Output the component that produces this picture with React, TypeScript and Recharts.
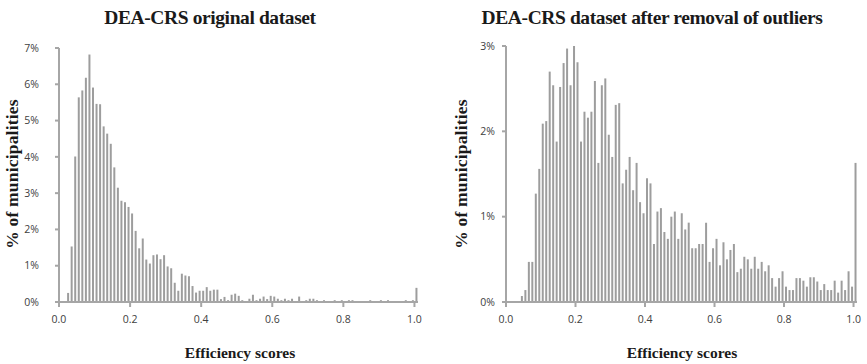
import React from "react";
import { BarChart, Bar, XAxis, YAxis } from "recharts";

// lower edge of each efficiency bin (0.00 ... 1.00), last bin = fully efficient
const BINS: number[] = Array.from({ length: 101 }, (_, i) => i / 100);

// % of municipalities per bin, original dataset
const ORIGINAL = [
  0, 0, 0.25, 1.53, 4.01, 5.64, 5.83, 6.18, 6.82, 5.91,
  5.46, 5.45, 4.84, 4.64, 4.36, 3.71, 3.15, 2.79, 2.75, 2.62,
  2.44, 1.96, 1.48, 1.75, 1.17, 1.06, 1.29, 1.31, 1.18, 1.29,
  0.98, 0.93, 0.53, 0.31, 0.78, 0.73, 0.71, 0.44, 0.26, 0.31,
  0.31, 0.41, 0.31, 0.34, 0.34, 0.08, 0.14, 0.05, 0.2, 0.23,
  0.17, 0.05, 0, 0.09, 0.2, 0.05, 0.09, 0.15, 0.08, 0.17,
  0.15, 0.09, 0.05, 0.09, 0.05, 0.09, 0, 0.15, 0, 0.05,
  0.09, 0.09, 0.05, 0, 0.05, 0, 0, 0.05, 0, 0.05,
  0, 0.05, 0.05, 0, 0, 0, 0, 0.05, 0, 0,
  0.05, 0, 0.05, 0, 0, 0, 0, 0.05, 0, 0.05,
  0.39,
];

// % of municipalities per bin, after removal of outliers
const NO_OUTLIERS = [
  0, 0, 0, 0, 0.07, 0.14, 0.47, 0.47, 1.27, 1.56,
  2.09, 2.12, 2.7, 2.54, 1.88, 2.52, 2.8, 2.97, 2.54, 3.01,
  2.81, 1.88, 2.23, 2.16, 2.23, 2.59, 1.63, 2.54, 2.62, 1.96,
  1.7, 2.31, 2.33, 1.39, 1.55, 1.7, 1.31, 1.63, 1.17, 1.04,
  1.45, 1.39, 0.68, 1.06, 1.1, 0.82, 0.74, 1.0, 1.06, 0.74,
  1.04, 0.85, 0.93, 0.63, 0.63, 0.68, 0.68, 0.93, 0.47, 0.63,
  0.74, 0.43, 0.7, 0.5, 0.61, 0.68, 0.35, 0.39, 0.53, 0.5,
  0.39, 0.53, 0.39, 0.47, 0.36, 0.43, 0.28, 0.18, 0.28, 0.36,
  0.18, 0.14, 0.14, 0.28, 0.28, 0.25, 0.18, 0.29, 0.29, 0.24,
  0.14, 0.21, 0.14, 0.14, 0.25, 0.11, 0.25, 0.14, 0.36, 0.18,
  1.63,
];

const X_TICKS = [0, 0.2, 0.4, 0.6, 0.8, 1];
const LEFT_Y_TICKS = [0, 1, 2, 3, 4, 5, 6, 7];
const RIGHT_Y_TICKS = [0, 1, 2, 3];

const BAR = "#9d9d9d";
const AXIS = "#a6a6a6";
const tickStyle = { fontFamily: "'Open Sans', sans-serif", fontSize: 10.5, fill: "#404040" };
const serif = "'Liberation Serif', 'Times New Roman', serif";

const toRows = (vals: number[]) => BINS.map((b, i) => ({ x: b + 0.005, v: vals[i] }));

function Hist({ rows, yTicks, yMax, width, margin, yWidth, yTickMargin, barSize }: any) {
  return (
    <BarChart width={width} height={364} data={rows} margin={margin} barCategoryGap={0}>
      <XAxis
        dataKey="x"
        type="number"
        domain={[0, 1.01]}
        ticks={X_TICKS}
        tickFormatter={(v: number) => v.toFixed(1)}
        height={30}
        tick={tickStyle}
        tickSize={5}
        tickMargin={9}
        axisLine={{ stroke: AXIS, strokeWidth: 2 }}
        tickLine={{ stroke: AXIS, strokeWidth: 2 }}
        allowDataOverflow
      />
      <YAxis
        type="number"
        domain={[0, yMax]}
        ticks={yTicks}
        tickFormatter={(v: number) => `${v}%`}
        width={yWidth}
        tick={tickStyle}
        tickSize={4}
        tickMargin={yTickMargin}
        axisLine={{ stroke: AXIS, strokeWidth: 2 }}
        tickLine={{ stroke: AXIS, strokeWidth: 2 }}
        allowDataOverflow
      />
      <Bar dataKey="v" fill={BAR} barSize={barSize} isAnimationActive={false} />
    </BarChart>
  );
}

const textBase: React.CSSProperties = {
  position: "absolute",
  fontFamily: serif,
  fontWeight: "bold",
  color: "#1a1a1a",
  whiteSpace: "nowrap",
  lineHeight: 1,
};

function Centered({ x, y, size, rotate, spacing, children }: any) {
  return (
    <div
      style={{
        ...textBase,
        left: x,
        top: y,
        fontSize: size,
        letterSpacing: spacing || 0,
        transform: `translate(-50%, -50%)${rotate ? " rotate(-90deg)" : ""}`,
      }}
    >
      {children}
    </div>
  );
}

export default function App() {
  return (
    <div style={{ position: "relative", width: 867, height: 364, background: "#fff", overflow: "hidden" }}>
      <style>{"body{margin:0}"}</style>
      <div style={{ position: "absolute", left: 0, top: 0 }}>
        <Hist
          rows={toRows(ORIGINAL)}
          yTicks={LEFT_Y_TICKS}
          yMax={7}
          width={450}
          margin={{ top: 48, right: 32, bottom: 32, left: 0 }}
          yWidth={59}
          yTickMargin={16}
          barSize={2}
        />
      </div>
      <div style={{ position: "absolute", left: 450, top: 0 }}>
        <Hist
          rows={toRows(NO_OUTLIERS)}
          yTicks={RIGHT_Y_TICKS}
          yMax={3}
          width={417}
          margin={{ top: 46, right: 10, bottom: 32, left: 0 }}
          yWidth={56}
          yTickMargin={7}
          barSize={2}
        />
      </div>

      <Centered x={210} y={18} size={19.5} spacing={-0.4}>DEA-CRS original dataset</Centered>
      <Centered x={652} y={18} size={19.5} spacing={-0.4}>DEA-CRS dataset after removal of outliers</Centered>
      <Centered x={13} y={174} size={17.5} spacing={0.2} rotate>% of municipalities</Centered>
      <Centered x={462} y={174} size={17.5} spacing={0.2} rotate>% of municipalities</Centered>
      <Centered x={240} y={353} size={15.5}>Efficiency scores</Centered>
      <Centered x={682} y={353} size={15.5}>Efficiency scores</Centered>
    </div>
  );
}
